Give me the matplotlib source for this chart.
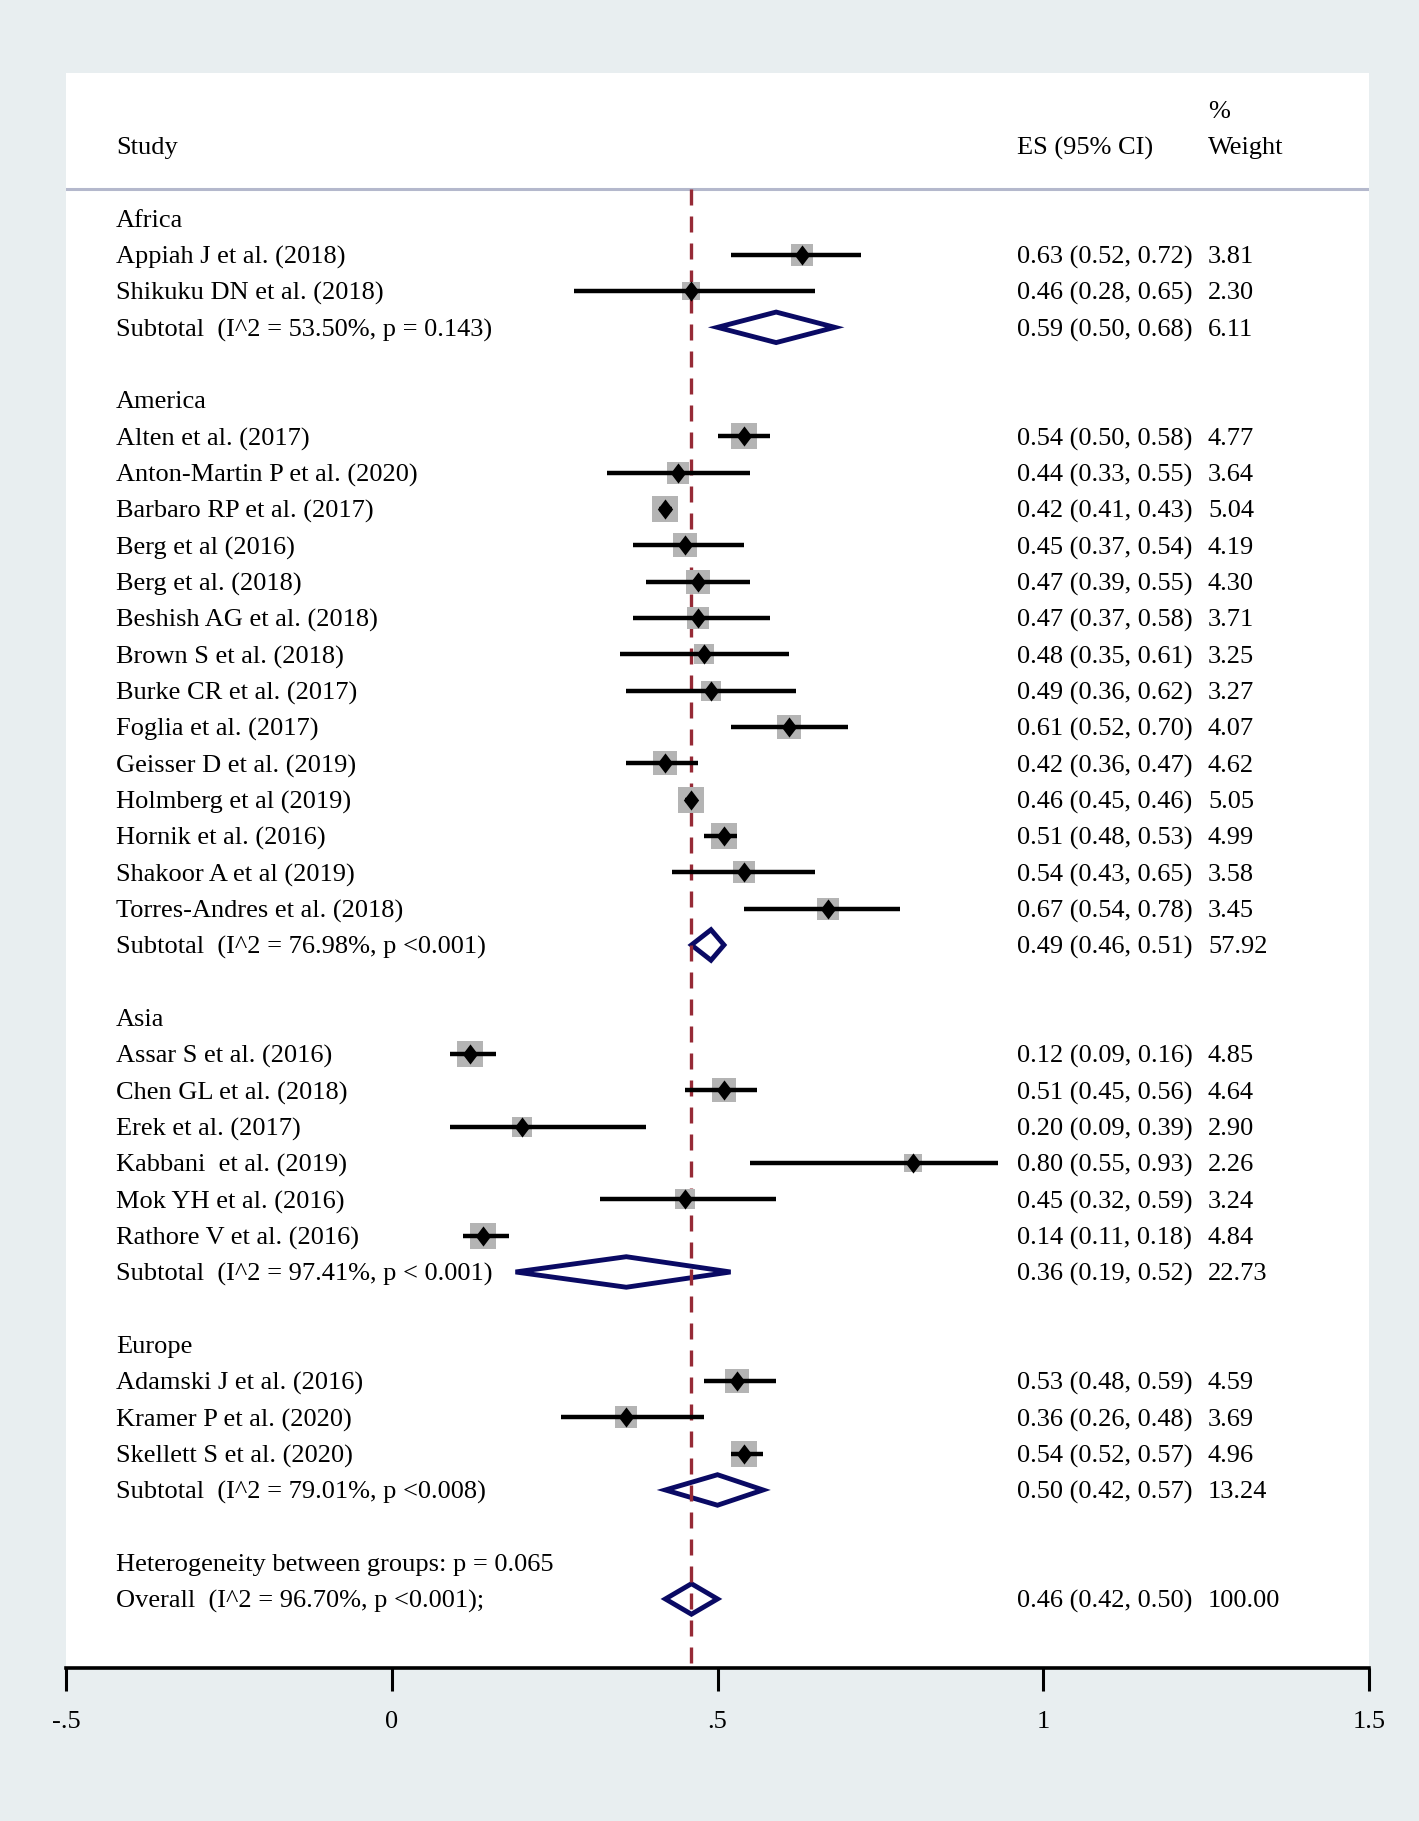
import matplotlib
matplotlib.use("Agg")
import matplotlib.pyplot as plt
from matplotlib.patches import Polygon

plt.rcParams['font.family'] = ['Liberation Serif', 'DejaVu Serif']

# rows of the forest plot, top to bottom
# kind: 'group' label, 'study', 'sub' (subtotal diamond), 'blank', 'text'
labels = [
    "Africa",
    "Appiah J et al. (2018)",
    "Shikuku DN et al. (2018)",
    "Subtotal  (I^2 = 53.50%, p = 0.143)",
    "",
    "America",
    "Alten et al. (2017)",
    "Anton-Martin P et al. (2020)",
    "Barbaro RP et al. (2017)",
    "Berg et al (2016)",
    "Berg et al. (2018)",
    "Beshish AG et al. (2018)",
    "Brown S et al. (2018)",
    "Burke CR et al. (2017)",
    "Foglia et al. (2017)",
    "Geisser D et al. (2019)",
    "Holmberg et al (2019)",
    "Hornik et al. (2016)",
    "Shakoor A et al (2019)",
    "Torres-Andres et al. (2018)",
    "Subtotal  (I^2 = 76.98%, p <0.001)",
    "",
    "Asia",
    "Assar S et al. (2016)",
    "Chen GL et al. (2018)",
    "Erek et al. (2017)",
    "Kabbani  et al. (2019)",
    "Mok YH et al. (2016)",
    "Rathore V et al. (2016)",
    "Subtotal  (I^2 = 97.41%, p < 0.001)",
    "",
    "Europe",
    "Adamski J et al. (2016)",
    "Kramer P et al. (2020)",
    "Skellett S et al. (2020)",
    "Subtotal  (I^2 = 79.01%, p <0.008)",
    "",
    "Heterogeneity between groups: p = 0.065",
    "Overall  (I^2 = 96.70%, p <0.001);",
]
kinds = (["group", "study", "study", "sub", "blank", "group"] + ["study"] * 14 +
         ["sub", "blank", "group"] + ["study"] * 6 +
         ["sub", "blank", "group"] + ["study"] * 3 +
         ["sub", "blank", "text", "sub"])
es = [None, 0.63, 0.46, 0.59, None, None,
      0.54, 0.44, 0.42, 0.45, 0.47, 0.47, 0.48, 0.49, 0.61, 0.42, 0.46, 0.51, 0.54, 0.67,
      0.49, None, None,
      0.12, 0.51, 0.20, 0.80, 0.45, 0.14,
      0.36, None, None,
      0.53, 0.36, 0.54,
      0.50, None, None, 0.46]
lo = [None, 0.52, 0.28, 0.50, None, None,
      0.50, 0.33, 0.41, 0.37, 0.39, 0.37, 0.35, 0.36, 0.52, 0.36, 0.45, 0.48, 0.43, 0.54,
      0.46, None, None,
      0.09, 0.45, 0.09, 0.55, 0.32, 0.11,
      0.19, None, None,
      0.48, 0.26, 0.52,
      0.42, None, None, 0.42]
hi = [None, 0.72, 0.65, 0.68, None, None,
      0.58, 0.55, 0.43, 0.54, 0.55, 0.58, 0.61, 0.62, 0.70, 0.47, 0.46, 0.53, 0.65, 0.78,
      0.51, None, None,
      0.16, 0.56, 0.39, 0.93, 0.59, 0.18,
      0.52, None, None,
      0.59, 0.48, 0.57,
      0.57, None, None, 0.50]
weights = [None, "3.81", "2.30", "6.11", None, None,
           "4.77", "3.64", "5.04", "4.19", "4.30", "3.71", "3.25", "3.27", "4.07", "4.62",
           "5.05", "4.99", "3.58", "3.45",
           "57.92", None, None,
           "4.85", "4.64", "2.90", "2.26", "3.24", "4.84",
           "22.73", None, None,
           "4.59", "3.69", "4.96",
           "13.24", None, None, "100.00"]
overall_es = 0.46
xticks = [-0.5, 0, 0.5, 1, 1.5]
xticklabels = ["-.5", "0", ".5", "1", "1.5"]

W, H = 1419, 1821
fig = plt.figure(figsize=(W / 100, H / 100), dpi=100, facecolor="#e8eef0")
ax = fig.add_axes([66 / W, (H - 1668) / H, (1369 - 66) / W, (1668 - 73) / H])
ax.set_facecolor("white")
ax.set_xlim(-0.5, 1.5)
ax.set_ylim(39.9, -4)

fs = 19
tr = ax.get_yaxis_transform()
x_lab, x_es, x_w = 0.0384, 0.730, 0.8764
navy = "#0a0a64"
va = "center_baseline"

# header
ax.text(x_lab, -2, "Study", transform=tr, fontsize=fs, va=va)
ax.text(x_es, -2, "ES (95% CI)", transform=tr, fontsize=fs, va=va)
ax.text(x_w, -3, "%", transform=tr, fontsize=fs, va=va)
ax.text(x_w, -2, "Weight", transform=tr, fontsize=fs, va=va)
ax.axhline(-0.8, color="#b4b8cc", lw=2.2, zorder=1)

# reference line at overall estimate
ax.plot([overall_es, overall_es], [-0.8, 40], color="#962a36", lw=2.4,
        linestyle=(0, (4.8, 3.3)), zorder=3)

for i, (lab, k) in enumerate(zip(labels, kinds)):
    if lab:
        ax.text(x_lab, i, lab, transform=tr, fontsize=fs, va=va)
    if es[i] is None:
        continue
    ax.text(x_es, i, "%.2f (%.2f, %.2f)" % (es[i], lo[i], hi[i]), transform=tr,
            fontsize=fs, va=va)
    ax.text(x_w, i, weights[i], transform=tr, fontsize=fs, va=va)
    if k == "study":
        w = float(weights[i])
        side = 11.6 * w ** 0.5 * 0.72
        ax.plot(es[i], i, marker="s", ms=side, color="#b4b4b4", mew=0, zorder=4)
        ax.plot([lo[i], hi[i]], [i, i], color="black", lw=3.2, solid_capstyle="butt", zorder=5)
        ax.plot(es[i], i, marker=[(-0.38, 0), (0, 0.5), (0.38, 0), (0, -0.5)],
                ms=14.5, color="black", mew=0, zorder=6)
    else:
        h = 0.42
        d = Polygon([(lo[i], i), (es[i], i - h), (hi[i], i), (es[i], i + h)],
                    closed=True, facecolor="white", edgecolor=navy, lw=3.5, zorder=2)
        ax.add_patch(d)

for s in ["top", "left", "right"]:
    ax.spines[s].set_visible(False)
ax.spines["bottom"].set_linewidth(2.6)
ax.set_yticks([])
ax.set_xticks(xticks)
ax.set_xticklabels(xticklabels)
ax.tick_params(axis="x", direction="out", length=16.5, width=2.2, pad=14.5, labelsize=fs)

fig.savefig("out.png", dpi=100, facecolor=fig.get_facecolor())
